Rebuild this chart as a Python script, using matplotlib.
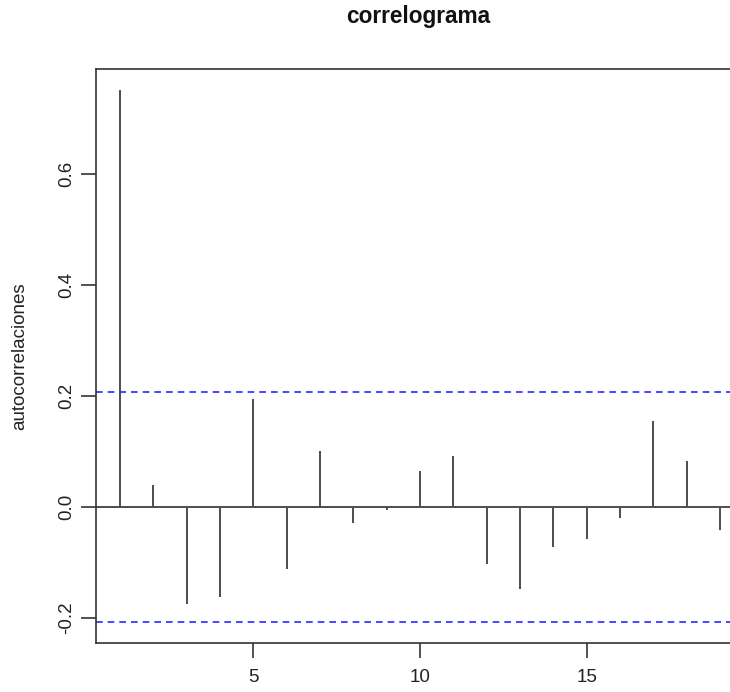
import matplotlib
matplotlib.use("Agg")
import matplotlib.pyplot as plt
import numpy as np

plt.rcParams['font.family'] = ['Liberation Sans', 'DejaVu Sans']

# Sample autocorrelations by lag
lags = list(range(1, 20))
acf_values = [0.752, 0.039, -0.176, -0.163, 0.194, -0.112, 0.100, -0.030, -0.006,
              0.064, 0.091, -0.104, -0.148, -0.072, -0.059, -0.021, 0.155, 0.083, -0.042]
conf_limit = 0.207

title = "correlograma"
ylabel = "autocorrelaciones"
yticks = [-0.2, 0.0, 0.2, 0.4, 0.6]
xticks = [5, 10, 15]

W, H = 730, 692
fig = plt.figure(figsize=(W / 100, H / 100), dpi=100)

left, right, top, bottom = 96, 744, 69, 643
ax = fig.add_axes([left / W, 1 - bottom / H, (right - left) / W, (bottom - top) / H])

# R-style axis ranges (4% padding)
span = lags[-1] - lags[0]
ax.set_xlim(lags[0] - 0.04 * span, lags[-1] + 0.04 * span)
ax.set_ylim(-0.2456, 0.789)

line_col = "#4d4d4d"
ax.vlines(lags, 0, acf_values, color=line_col, linewidth=1.4)
ax.axhline(0, color=line_col, linewidth=1.4)
for c in (conf_limit, -conf_limit):
    ax.axhline(c, color="#2a2aff", linewidth=1.2, linestyle=(0, (4, 3)))

for s in ax.spines.values():
    s.set_color("#333333")
    s.set_linewidth(1.2)

ax.set_yticks(yticks)
ax.set_yticklabels([f"{v:.1f}" for v in yticks], rotation=90, va="center")
ax.set_xticks(xticks)
ax.set_xticklabels([str(v) for v in xticks])
ax.tick_params(axis="both", direction="out", length=11, width=1.2, color="#333333",
               labelsize=13.5, labelcolor="#222222")
ax.tick_params(axis="y", pad=4)
ax.tick_params(axis="x", pad=8)

fig.text(20 / W, 1 - 356 / H, ylabel, rotation=90, ha="center", va="center",
         fontsize=13.5, color="#222222")
fig.text(418 / W, 1 - 17 / H, title, ha="center", va="center",
         fontsize=16.3, fontweight="bold", color="#111111")

fig.savefig("out.png", dpi=100)
